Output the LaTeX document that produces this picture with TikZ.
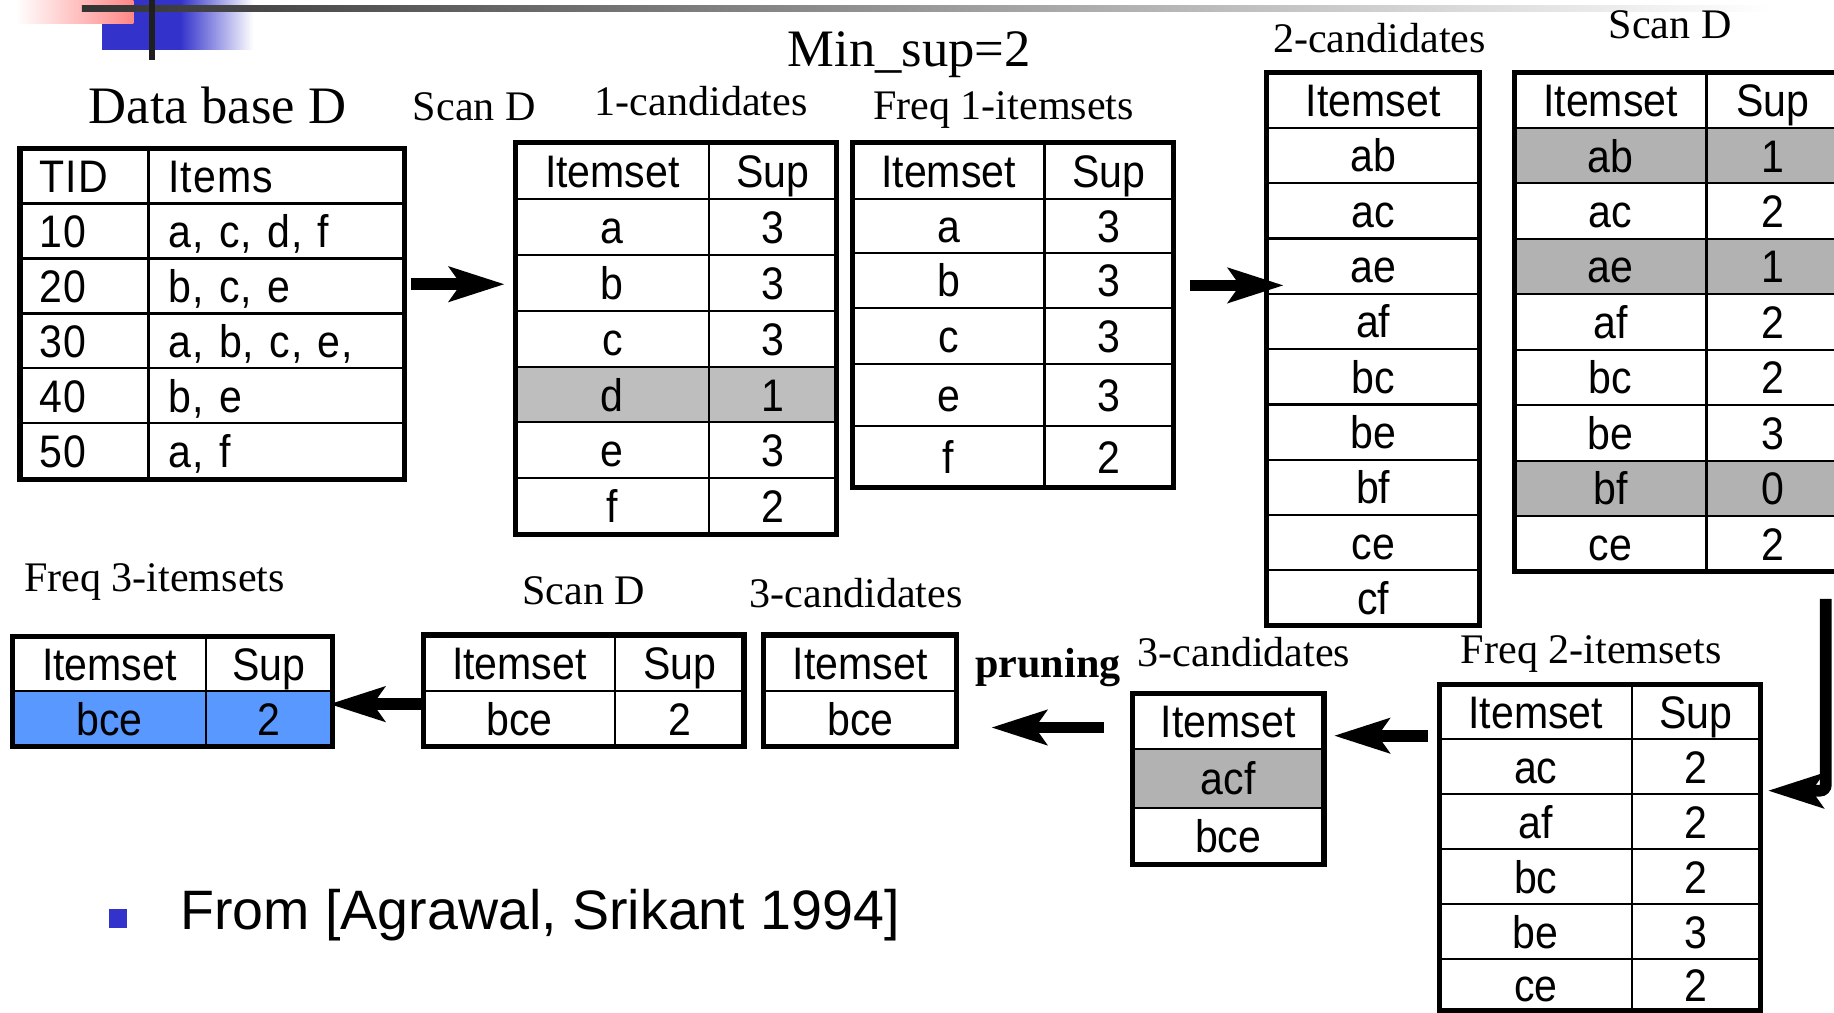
\documentclass[tikz,border=0pt]{standalone}
\usepackage{fontspec}
\setmainfont{Liberation Serif}
\newfontfamily\tabfont[FakeStretch=0.9]{Liberation Sans}
\newfontfamily\tabfontw[FakeStretch=0.9, LetterSpace=2.5]{Liberation Sans}
\newfontfamily\reffont{Liberation Sans}
\usetikzlibrary{arrows.meta,calc}
\definecolor{slideblue}{RGB}{51,51,204}
\definecolor{pinkc}{RGB}{255,135,135}
\definecolor{grayA}{RGB}{190,190,190}
\definecolor{grayB}{RGB}{178,178,178}
\definecolor{hiblue}{RGB}{88,152,255}
\tikzset{
  cell/.style={draw=black, line width=1.8pt, inner sep=0pt, outer sep=0pt,
    font=\tabfont\fontsize{39}{44}\selectfont, text height=28.5pt, text depth=0.4pt},
  lcell/.style={cell, inner xsep=17pt, align=left, font=\tabfontw\fontsize{39}{44}\selectfont},
  frame/.style={draw=black, line width=4.5pt, inner sep=0pt, outer sep=0pt},
  lbl/.style={font=\fontsize{36}{40}\selectfont, inner sep=0pt, anchor=base},
  bigarrow/.style={line width=10pt, -{Stealth[length=48pt, width=31pt, inset=11pt, line width=0pt]}},
}
\newcommand{\mkcell}[7]{\node[cell, fill=#7, minimum width={(#3)-(#2)}, minimum height={(#5)-(#4)}] (#1) at ({((#2)+(#3))/2},{((#4)+(#5))/2}) {#6};}
\newcommand{\mkcellL}[7]{\node[lcell, fill=white, text width=#7pt, minimum height={(#5)-(#4)}] (#1) at ({((#2)+(#3))/2},{((#4)+(#5))/2}) {#6};}
\newcommand{\mkframe}[5]{\node[frame, minimum width={(#3)-(#2)}, minimum height={(#5)-(#4)}] (#1) at ({((#2)+(#3))/2},{((#4)+(#5))/2}) {};}
\begin{document}
\begin{tikzpicture}[x=1pt, y=-1pt]
\useasboundingbox (0,0) rectangle (1568,866);
\clip (0,0) rectangle (1568,866);
\fill[white] (0,0) rectangle (1568,866);
% slide decoration
\fill[slideblue] (87,0) rectangle (154,42.7);
\shade[left color=slideblue, right color=white] (154,0) rectangle (216.6,42.7);
\shade[left color=white, right color=pinkc] (13,0) rectangle (114,20.5);
\shade[left color=black!80, right color=white] (70,4.8) rectangle (1515,9.8);
\fill[black!88] (127,0) rectangle (132.5,51.3);

% labels
\node[lbl, font=\fontsize{45}{50}\selectfont] (lDB) at (186,105.5) {Data base D};
\node[lbl, font=\fontsize{45}{50}\selectfont] (lMin) at (777.5,57) {Min\_sup=2};
\node[lbl] (lScan1) at (405.5,103) {Scan D};
\node[lbl] (l1c) at (599.5,99) {1-candidates};
\node[lbl] (lF1) at (858,102) {Freq 1-itemsets};
\node[lbl] (l2c) at (1179.5,45) {2-candidates};
\node[lbl] (lScan2) at (1428,33) {Scan D};
\node[lbl] (lF3) at (132,506) {Freq 3-itemsets};
\node[lbl] (lScan3) at (499,517) {Scan D};
\node[lbl] (l3ca) at (732,519) {3-candidates};
\node[lbl, font=\bfseries\fontsize{36}{40}\selectfont] (lprune) at (896,579) {pruning};
\node[lbl] (l3cb) at (1063.5,570) {3-candidates};
\node[lbl] (lF2) at (1360.5,567) {Freq 2-itemsets};

% Database table
\mkcellL{db0a}{17}{127}{127}{174}{TID}{76}
\mkcellL{db0b}{127}{346}{127}{174}{Items}{185}
\mkcellL{db1a}{17}{127}{174}{221}{10}{76}
\mkcellL{db1b}{127}{346}{174}{221}{a, c, d, f}{185}
\mkcellL{db2a}{17}{127}{221}{268}{20}{76}
\mkcellL{db2b}{127}{346}{221}{268}{b, c, e}{185}
\mkcellL{db3a}{17}{127}{268}{315}{30}{76}
\mkcellL{db3b}{127}{346}{268}{315}{a, b, c, e,}{185}
\mkcellL{db4a}{17}{127}{315}{362}{40}{76}
\mkcellL{db4b}{127}{346}{315}{362}{b, e}{185}
\mkcellL{db5a}{17}{127}{362}{410}{50}{76}
\mkcellL{db5b}{127}{346}{362}{410}{a, f}{185}
\mkframe{dbT}{17}{346}{127}{410}

% 1-candidates
\mkcell{c1h1}{441}{606}{122}{170}{Itemset}{white}
\mkcell{c1h2}{606}{715}{122}{170}{Sup}{white}
\mkcell{c1a1}{441}{606}{170}{218}{a}{white}
\mkcell{c1a2}{606}{715}{170}{218}{3}{white}
\mkcell{c1b1}{441}{606}{218}{266}{b}{white}
\mkcell{c1b2}{606}{715}{218}{266}{3}{white}
\mkcell{c1c1}{441}{606}{266}{314}{c}{white}
\mkcell{c1c2}{606}{715}{266}{314}{3}{white}
\mkcell{c1d1}{441}{606}{314}{361}{d}{grayA}
\mkcell{c1d2}{606}{715}{314}{361}{1}{grayA}
\mkcell{c1e1}{441}{606}{361}{409}{e}{white}
\mkcell{c1e2}{606}{715}{361}{409}{3}{white}
\mkcell{c1f1}{441}{606}{409}{457}{f}{white}
\mkcell{c1f2}{606}{715}{409}{457}{2}{white}
\mkframe{c1T}{441}{715}{122}{457}

% Freq 1-itemsets
\mkcell{f1h1}{729}{893}{122}{170}{Itemset}{white}
\mkcell{f1h2}{893}{1003}{122}{170}{Sup}{white}
\mkcell{f1a1}{729}{893}{170}{216}{a}{white}
\mkcell{f1a2}{893}{1003}{170}{216}{3}{white}
\mkcell{f1b1}{729}{893}{216}{263}{b}{white}
\mkcell{f1b2}{893}{1003}{216}{263}{3}{white}
\mkcell{f1c1}{729}{893}{263}{311}{c}{white}
\mkcell{f1c2}{893}{1003}{263}{311}{3}{white}
\mkcell{f1e1}{729}{893}{311}{364}{e}{white}
\mkcell{f1e2}{893}{1003}{311}{364}{3}{white}
\mkcell{f1f1}{729}{893}{364}{417}{f}{white}
\mkcell{f1f2}{893}{1003}{364}{417}{2}{white}
\mkframe{f1T}{729}{1003}{122}{417}

% 2-candidates
\mkcell{c2h}{1083}{1265}{62}{109.3}{Itemset}{white}
\mkcell{c2r1}{1083}{1265}{109.3}{156.6}{ab}{white}
\mkcell{c2r2}{1083}{1265}{156.6}{203.9}{ac}{white}
\mkcell{c2r3}{1083}{1265}{203.9}{251.2}{ae}{white}
\mkcell{c2r4}{1083}{1265}{251.2}{298.5}{af}{white}
\mkcell{c2r5}{1083}{1265}{298.5}{345.8}{bc}{white}
\mkcell{c2r6}{1083}{1265}{345.8}{393.1}{be}{white}
\mkcell{c2r7}{1083}{1265}{393.1}{440.4}{bf}{white}
\mkcell{c2r8}{1083}{1265}{440.4}{487.7}{ce}{white}
\mkcell{c2r9}{1083}{1265}{487.7}{535}{cf}{white}
\mkframe{c2T}{1083}{1265}{62}{535}

% Scan D (2-candidates with support)
\mkcell{s2h1}{1295}{1459}{62}{109.4}{Itemset}{white}
\mkcell{s2h2}{1459}{1572}{62}{109.4}{Sup}{white}
\mkcell{s2a1}{1295}{1459}{109.4}{156.8}{ab}{grayB}
\mkcell{s2a2}{1459}{1572}{109.4}{156.8}{1}{grayB}
\mkcell{s2b1}{1295}{1459}{156.8}{204.2}{ac}{white}
\mkcell{s2b2}{1459}{1572}{156.8}{204.2}{2}{white}
\mkcell{s2c1}{1295}{1459}{204.2}{251.6}{ae}{grayB}
\mkcell{s2c2}{1459}{1572}{204.2}{251.6}{1}{grayB}
\mkcell{s2d1}{1295}{1459}{251.6}{299}{af}{white}
\mkcell{s2d2}{1459}{1572}{251.6}{299}{2}{white}
\mkcell{s2e1}{1295}{1459}{299}{346.4}{bc}{white}
\mkcell{s2e2}{1459}{1572}{299}{346.4}{2}{white}
\mkcell{s2f1}{1295}{1459}{346.4}{393.8}{be}{white}
\mkcell{s2f2}{1459}{1572}{346.4}{393.8}{3}{white}
\mkcell{s2g1}{1295}{1459}{393.8}{441.2}{bf}{grayB}
\mkcell{s2g2}{1459}{1572}{393.8}{441.2}{0}{grayB}
\mkcell{s2i1}{1295}{1459}{441.2}{488.6}{ce}{white}
\mkcell{s2i2}{1459}{1572}{441.2}{488.6}{2}{white}
\mkframe{s2T}{1295}{1572}{62}{488.6}

% Freq 2-itemsets
\mkcell{f2h1}{1231}{1395}{585}{632}{Itemset}{white}
\mkcell{f2h2}{1395}{1505}{585}{632}{Sup}{white}
\mkcell{f2a1}{1231}{1395}{632}{679}{ac}{white}
\mkcell{f2a2}{1395}{1505}{632}{679}{2}{white}
\mkcell{f2b1}{1231}{1395}{679}{726}{af}{white}
\mkcell{f2b2}{1395}{1505}{679}{726}{2}{white}
\mkcell{f2c1}{1231}{1395}{726}{773}{bc}{white}
\mkcell{f2c2}{1395}{1505}{726}{773}{2}{white}
\mkcell{f2d1}{1231}{1395}{773}{820}{be}{white}
\mkcell{f2d2}{1395}{1505}{773}{820}{3}{white}
\mkcell{f2e1}{1231}{1395}{820}{864}{ce}{white}
\mkcell{f2e2}{1395}{1505}{820}{864}{2}{white}
\mkframe{f2T}{1231}{1505}{585}{864}

% 3-candidates (before pruning)
\mkcell{c3bh}{968}{1132}{593}{640}{Itemset}{white}
\mkcell{c3b1}{968}{1132}{640}{691}{acf}{grayB}
\mkcell{c3b2}{968}{1132}{691}{739}{bce}{white}
\mkframe{c3bT}{968}{1132}{593}{739}

% 3-candidates (after pruning)
\mkcell{c3ah}{653}{818}{543}{591}{Itemset}{white}
\mkcell{c3a1}{653}{818}{591}{638}{bce}{white}
\mkframe{c3aT}{653}{818}{543}{638}

% Scan D (3)
\mkcell{s3h1}{362}{526}{543}{591}{Itemset}{white}
\mkcell{s3h2}{526}{636}{543}{591}{Sup}{white}
\mkcell{s3a1}{362}{526}{591}{638}{bce}{white}
\mkcell{s3a2}{526}{636}{591}{638}{2}{white}
\mkframe{s3T}{362}{636}{543}{638}

% Freq 3-itemsets
\mkcell{f3h1}{11}{176}{544}{591}{Itemset}{white}
\mkcell{f3h2}{176}{284}{544}{591}{Sup}{white}
\mkcell{f3a1}{11}{176}{591}{638}{bce}{hiblue}
\mkcell{f3a2}{176}{284}{591}{638}{2}{hiblue}
\mkframe{f3T}{11}{284}{544}{638}

% arrows
\coordinate (a1s) at ($(dbT.east)+(5,-25.5)$);
\coordinate (a1e) at ($(a1s -| c1T.west)+(-10,0)$);
\draw[bigarrow] (a1s) -- (a1e);
\coordinate (a2s) at ($(f1T.east)+(14,-25.5)$);
\coordinate (a2e) at ($(a2s -| c2T.west)+(14,0)$);
\draw[bigarrow] (a2s) -- (a2e);
\coordinate (a6s) at ($(s2T.south east)+(-11,23.4)$);
\coordinate (a6e) at ($(f2T.east)+(7,-48.5)$);
\draw[bigarrow, rounded corners=5pt] (a6s) |- (a6e);
\coordinate (a3s) at ($(f2T.west)+(-10,-95.5)$);
\coordinate (a3e) at ($(a3s -| c3bT.east)+(9,0)$);
\draw[bigarrow] (a3s) -- (a3e);
\coordinate (a4s) at ($(c3bT.west)+(-24,-44)$);
\coordinate (a4e) at ($(a4s -| c3aT.east)+(30,0)$);
\draw[bigarrow] (a4s) -- (a4e);
\coordinate (a5s) at ($(s3T.west)+(0,11.5)$);
\coordinate (a5e) at ($(a5s -| f3T.east)+(-2,0)$);
\draw[bigarrow] (a5s) -- (a5e);

% reference line
\fill[slideblue] (93,777) rectangle (109,793);
\node[inner sep=0pt, anchor=base west, font=\reffont\fontsize{47.5}{52}\selectfont] (lref) at (154,795) {From [Agrawal, Srikant 1994]};
\end{tikzpicture}
\end{document}
